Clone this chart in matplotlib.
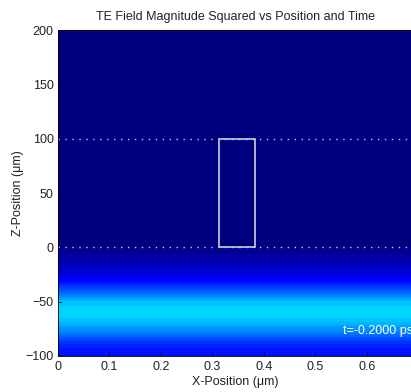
import numpy as np
import matplotlib
matplotlib.use("Agg")
import matplotlib.pyplot as plt
from matplotlib.patches import Rectangle

plt.rcParams['font.family'] = ['Liberation Sans', 'DejaVu Sans']

# field |E|^2 profile along z (same for every x)
z_pos = [-100, -95, -90, -85, -80, -75, -70, -65, -60, -55, -50, -45, -40,
         -35, -30, -25, -20, -15, -10, -5, 0, 5, 10, 200]
field_sq = [0.14, 0.15, 0.165, 0.20, 0.245, 0.275, 0.305, 0.33, 0.335, 0.33,
            0.315, 0.26, 0.215, 0.17, 0.12, 0.095, 0.075, 0.055, 0.04, 0.025,
            0.015, 0.01, 0.01, 0.01]
x_range = [0, 0.688]

# structure outline and time stamp
box_x = [0.312, 0.382]
box_z = [0, 100]
time_label = "t=-0.2000 ps"

# resample on a fine z grid so the 64-level colormap bands like the original
z_fine = np.linspace(-100, 200, 601)
profile = np.interp(z_fine, z_pos, field_sq)
img = np.tile(profile[:, None], (1, 20))

fig = plt.figure(figsize=(4.11, 3.92), dpi=100)
ax = fig.add_axes([0.141, 0.092, 0.862, 0.831])

ax.imshow(img, cmap=plt.get_cmap('jet', 64), vmin=0, vmax=1, origin='lower',
          aspect='auto', interpolation='nearest',
          extent=[x_range[0], x_range[1], -100, 200])

for zl in box_z:
    ax.axhline(zl, color='#c8c8e0', linestyle=(0, (1, 4)), linewidth=1)
ax.add_patch(Rectangle((box_x[0], box_z[0]), box_x[1] - box_x[0],
                       box_z[1] - box_z[0], fill=False,
                       edgecolor='#d0d0d0', linewidth=1.2))
# the time stamp runs past the right edge, as in the original
ax.text(0.553, -77, time_label, color='white', fontsize=9, va='center')

txt = '#222222'
ax.set_xlim(x_range)
ax.set_ylim(-100, 200)
ax.set_xticks([0, 0.1, 0.2, 0.3, 0.4, 0.5, 0.6])
ax.set_xticklabels(['0', '0.1', '0.2', '0.3', '0.4', '0.5', '0.6'])
ax.set_yticks([-100, -50, 0, 50, 100, 150, 200])
ax.tick_params(direction='in', labelsize=9, length=3, width=0.5,
               labelcolor=txt)
ax.tick_params(axis='x', pad=4)
ax.tick_params(axis='y', pad=3)
for s in ax.spines.values():
    s.set_linewidth(0.6)

ax.set_title("TE Field Magnitude Squared vs Position and Time", fontsize=9,
             pad=7, color=txt)
ax.set_xlabel("X-Position (μm)", fontsize=9, labelpad=2, color=txt)
ax.set_ylabel("Z-Position (μm)", fontsize=9, labelpad=1, color=txt)

fig.savefig("out.png", dpi=100)
